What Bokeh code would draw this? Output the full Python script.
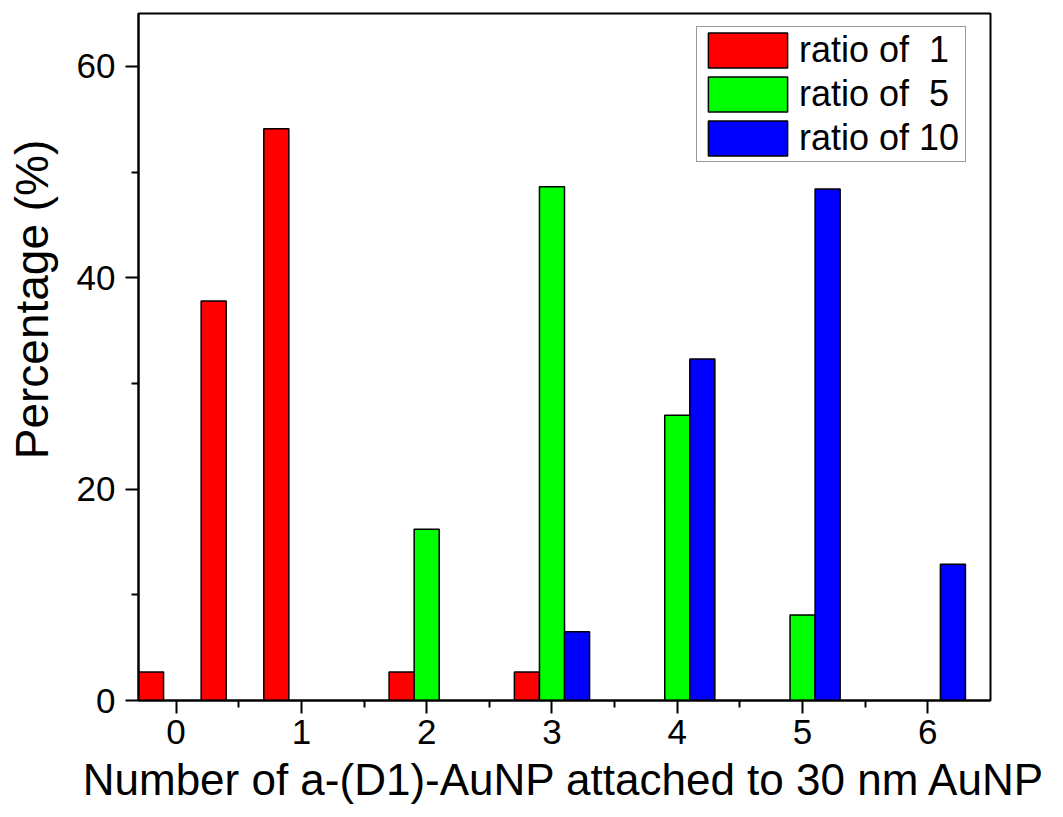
from bokeh.plotting import figure
from bokeh.models import Range1d, FixedTicker, Legend, LegendItem, ColumnDataSource
from bokeh.transform import dodge
from bokeh.embed import file_html
from bokeh.resources import INLINE

# ---- data ----
x_ratio1 = [0, 0.5, 1, 2, 3]
ratio1 = [2.7, 37.8, 54.1, 2.7, 2.7]
x_ratio5 = [2, 3, 4, 5]
ratio5 = [16.2, 48.6, 27.0, 8.1]
x_ratio10 = [3, 4, 5, 6]
ratio10 = [6.5, 32.3, 48.4, 12.9]
series_labels = ["ratio of\u00a0\u00a01", "ratio of\u00a0\u00a05", "ratio of 10"]
x_ticks = [0, 1, 2, 3, 4, 5, 6]
x_minor = [0.5, 1.5, 2.5, 3.5, 4.5, 5.5]
y_ticks = [0, 20, 40, 60]
y_minor = [10, 30, 50]

FONT = "Liberation Sans"

W, H = 1055, 817
p = figure(width=W, height=H, output_backend="svg", toolbar_location=None,
           x_range=Range1d(-0.3, 6.5), y_range=Range1d(0, 65),
           min_border_left=138, min_border_right=W - 990, min_border_top=13,
           min_border_bottom=H - 700)
p.background_fill_color = "white"
p.border_fill_color = "white"
p.outline_line_color = "black"
p.outline_line_width = 2
p.grid.visible = False

renderers = []
for xs, ys, color, off in [(x_ratio1, ratio1, "#FF0000", -0.2),
                           (x_ratio5, ratio5, "#00FF00", 0.0),
                           (x_ratio10, ratio10, "#0000FF", 0.2)]:
    src = ColumnDataSource(dict(x=xs, top=ys))
    r = p.vbar(x=dodge("x", off, range=p.x_range), top="top", bottom=0, width=0.2,
               source=src, fill_color=color, line_color="black", line_width=1.5)
    renderers.append(r)

p.xaxis.ticker = FixedTicker(ticks=x_ticks, minor_ticks=x_minor)
p.yaxis.ticker = FixedTicker(ticks=y_ticks, minor_ticks=y_minor)

for ax in (p.xaxis, p.yaxis):
    ax.axis_line_width = 2
    ax.major_tick_line_width = 2
    ax.minor_tick_line_width = 2
    ax.major_tick_in = 0
    ax.minor_tick_in = 0
    ax.major_tick_out = 13
    ax.minor_tick_out = 7
    ax.major_label_text_font = FONT
    ax.major_label_text_font_size = "35px"
    ax.major_label_text_color = "black"
    ax.axis_label_text_font = FONT
    ax.axis_label_text_font_style = "normal"
    ax.axis_label_text_color = "black"

p.xaxis.axis_label_text_font_size = "44px"
p.yaxis.axis_label_text_font_size = "46px"
p.xaxis.major_label_standoff = 6
p.yaxis.major_label_standoff = 10
p.xaxis.axis_label = "Number of a-(D1)-AuNP attached to 30 nm AuNP"
# leading no-break spaces move the centred label up, as in the original
p.yaxis.axis_label = "\u00a0" * 9 + "Percentage (%)"
p.xaxis.axis_label_standoff = 8
p.yaxis.axis_label_standoff = 16

legend = Legend(items=[LegendItem(label=l, renderers=[r]) for l, r in zip(series_labels, renderers)],
                location=(558, 538))
legend.glyph_width = 99
legend.glyph_height = 44
legend.label_text_font = FONT
legend.label_text_font_size = "36px"
legend.label_text_color = "black"
legend.label_standoff = 2
legend.label_width = 165
legend.label_height = 44
legend.spacing = 0
legend.padding = 1
legend.margin = 0
legend.border_line_color = "#333333"
legend.border_line_width = 1
legend.background_fill_alpha = 1.0
p.add_layout(legend)

open("out.html", "w").write(file_html(p, INLINE))
